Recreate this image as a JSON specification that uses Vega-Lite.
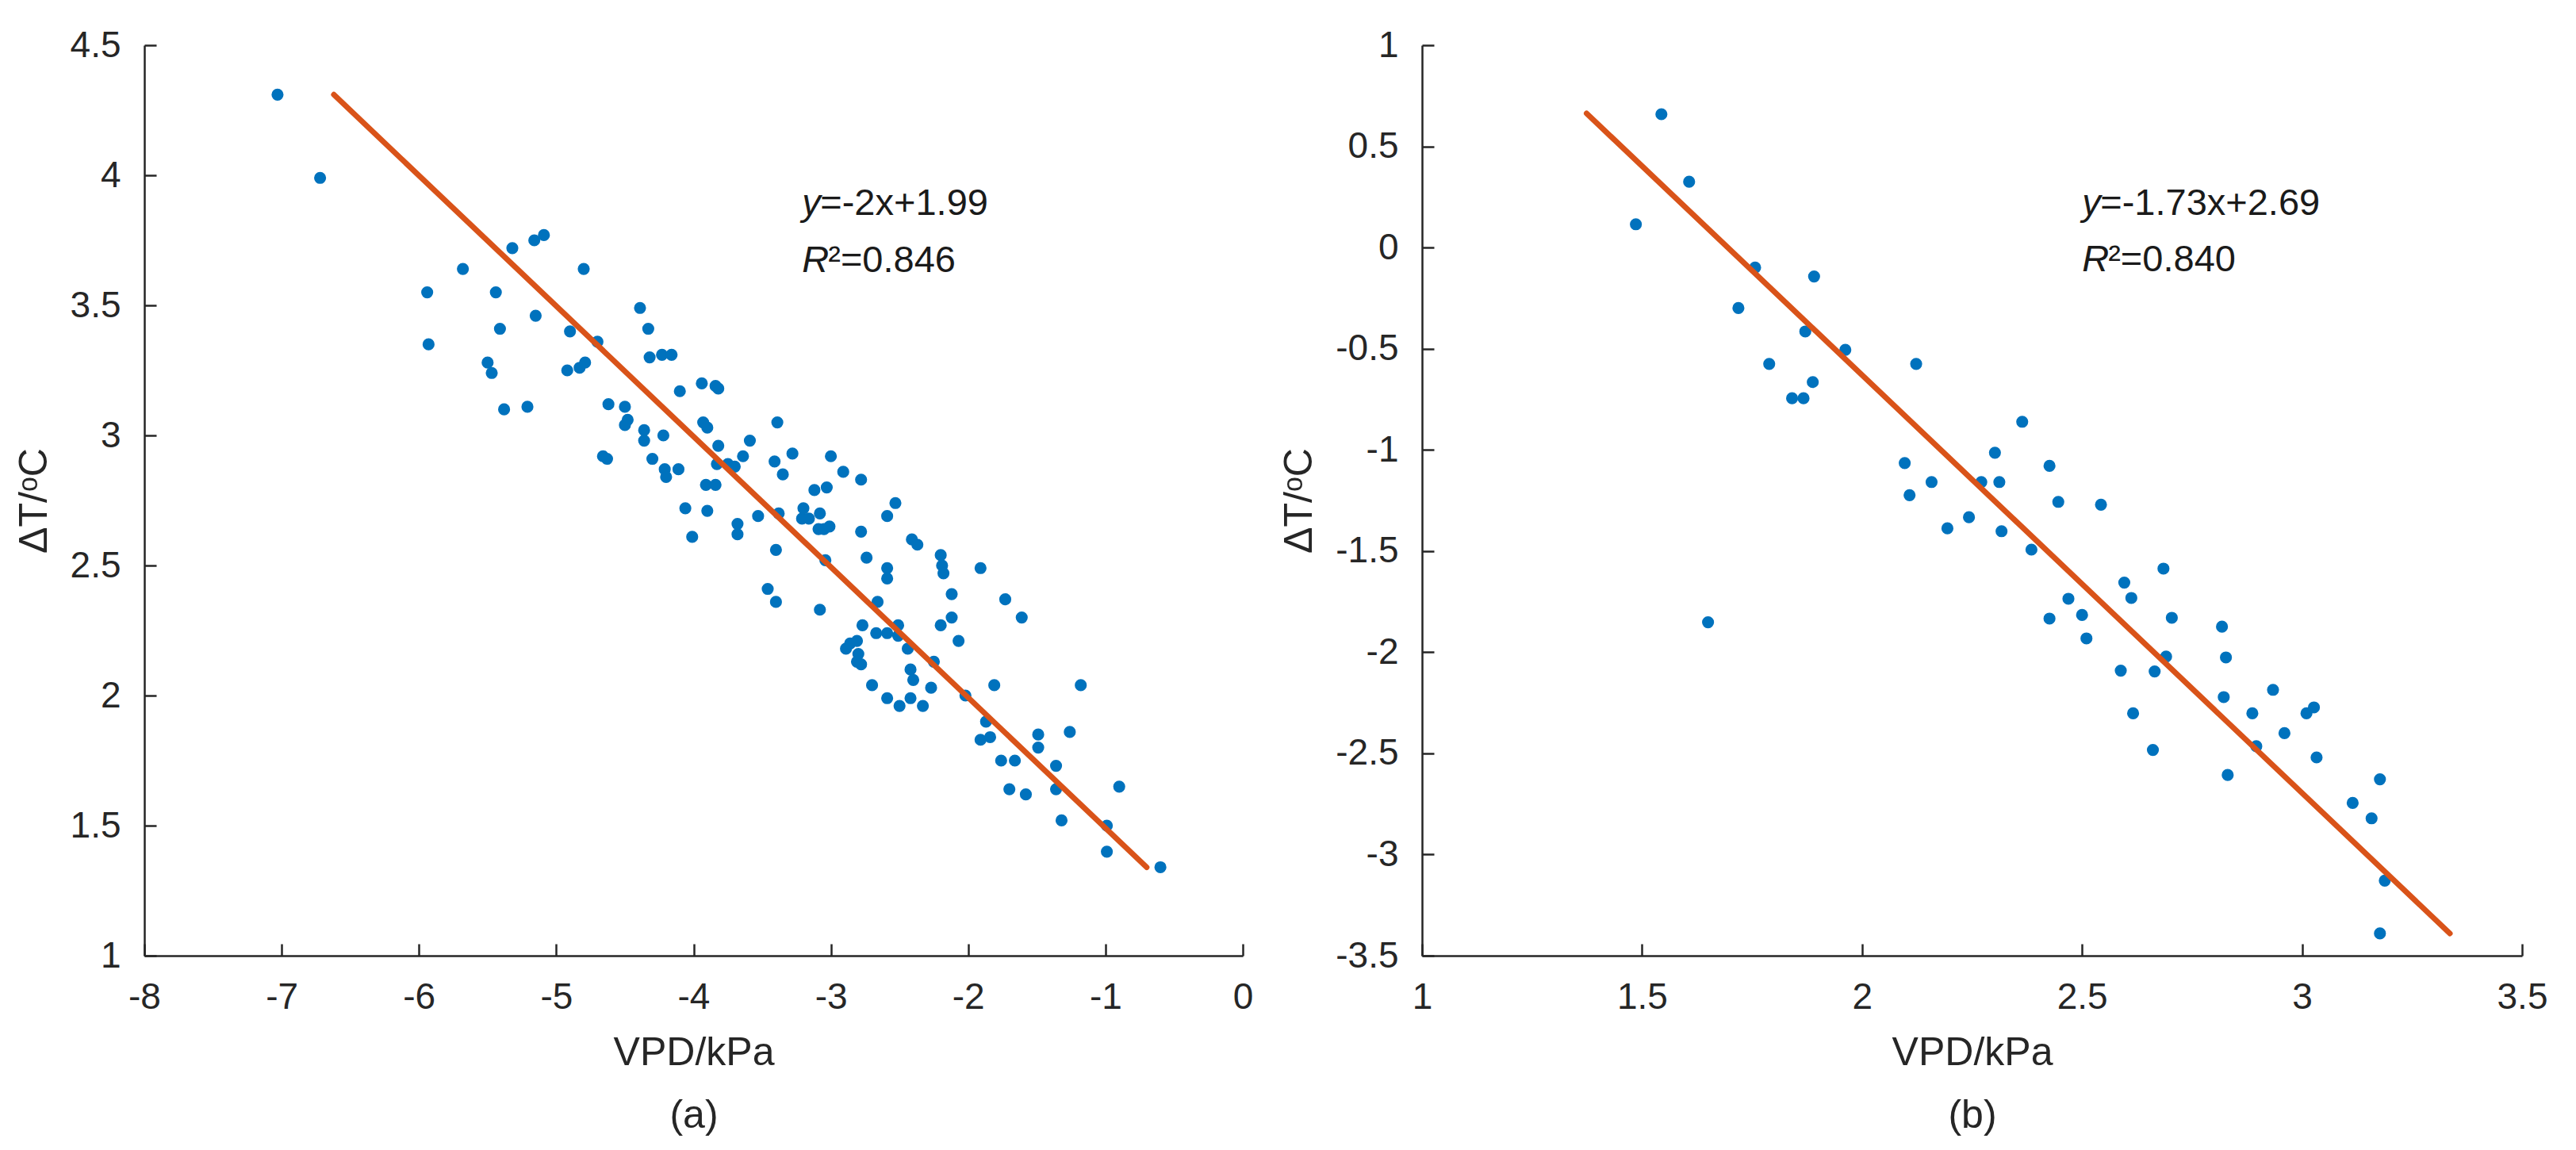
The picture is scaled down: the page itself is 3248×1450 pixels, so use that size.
{
  "$schema": "https://vega.github.io/schema/vega-lite/v6.json",
  "background": "white",
  "padding": {"left": 18, "top": 34, "right": 5, "bottom": 5},
  "bounds": "flush",
  "spacing": 226,
  "config": {
    "font": "Liberation Sans",
    "view": {"stroke": null},
    "axis": {
      "grid": false,
      "domainColor": "#262626",
      "domainWidth": 2.5,
      "tickColor": "#262626",
      "tickWidth": 2.5,
      "tickSize": -15,
      "labelFont": "Liberation Sans",
      "labelFontSize": 46,
      "labelColor": "#262626",
      "labelPadding": 45,
      "labelFlush": false,
      "labelOverlap": false,
      "labelExpr": "'' + datum.value",
      "titleFont": "Liberation Sans",
      "titleFontSize": 50,
      "titleFontWeight": "normal",
      "titleColor": "#262626"
    },
    "axisX": {"titlePadding": 22, "titleLineHeight": 79},
    "axisY": {"titlePadding": 20}
  },
  "datasets": {
    "a_points": [
      {"x": -7.03, "y": 4.31}, {"x": -6.72, "y": 3.99}, {"x": -5.94, "y": 3.55}, {"x": -5.93, "y": 3.35},
      {"x": -5.68, "y": 3.64}, {"x": -5.44, "y": 3.55}, {"x": -5.41, "y": 3.41}, {"x": -5.50, "y": 3.28},
      {"x": -5.47, "y": 3.24}, {"x": -5.38, "y": 3.10}, {"x": -5.32, "y": 3.72}, {"x": -5.21, "y": 3.11},
      {"x": -5.16, "y": 3.75}, {"x": -5.09, "y": 3.77}, {"x": -5.15, "y": 3.46}, {"x": -4.90, "y": 3.40},
      {"x": -4.92, "y": 3.25}, {"x": -4.83, "y": 3.26}, {"x": -4.79, "y": 3.28}, {"x": -4.80, "y": 3.64},
      {"x": -4.70, "y": 3.36}, {"x": -4.62, "y": 3.12}, {"x": -4.50, "y": 3.11}, {"x": -4.48, "y": 3.06},
      {"x": -4.50, "y": 3.04}, {"x": -4.66, "y": 2.92}, {"x": -4.63, "y": 2.91}, {"x": -4.39, "y": 3.49},
      {"x": -4.33, "y": 3.41}, {"x": -4.32, "y": 3.30}, {"x": -4.23, "y": 3.31}, {"x": -4.16, "y": 3.31},
      {"x": -4.36, "y": 3.02}, {"x": -4.36, "y": 2.98}, {"x": -4.22, "y": 3.00}, {"x": -4.30, "y": 2.91},
      {"x": -4.10, "y": 3.17}, {"x": -4.21, "y": 2.87}, {"x": -4.20, "y": 2.84}, {"x": -4.11, "y": 2.87},
      {"x": -4.06, "y": 2.72}, {"x": -4.01, "y": 2.61}, {"x": -3.94, "y": 3.20}, {"x": -3.93, "y": 3.05},
      {"x": -3.90, "y": 3.03}, {"x": -3.84, "y": 3.19}, {"x": -3.82, "y": 3.18}, {"x": -3.82, "y": 2.96},
      {"x": -3.83, "y": 2.89}, {"x": -3.91, "y": 2.81}, {"x": -3.84, "y": 2.81}, {"x": -3.90, "y": 2.71},
      {"x": -3.75, "y": 2.89}, {"x": -3.70, "y": 2.88}, {"x": -3.64, "y": 2.92}, {"x": -3.59, "y": 2.98},
      {"x": -3.68, "y": 2.66}, {"x": -3.68, "y": 2.62}, {"x": -3.53, "y": 2.69}, {"x": -3.46, "y": 2.41},
      {"x": -3.40, "y": 2.36}, {"x": -3.40, "y": 2.56}, {"x": -3.41, "y": 2.90}, {"x": -3.39, "y": 3.05},
      {"x": -3.35, "y": 2.85}, {"x": -3.38, "y": 2.70}, {"x": -3.28, "y": 2.93}, {"x": -3.21, "y": 2.68},
      {"x": -3.20, "y": 2.72}, {"x": -3.16, "y": 2.68}, {"x": -3.12, "y": 2.79}, {"x": -3.08, "y": 2.70},
      {"x": -3.09, "y": 2.64}, {"x": -3.05, "y": 2.64}, {"x": -3.01, "y": 2.65}, {"x": -3.03, "y": 2.80},
      {"x": -3.00, "y": 2.92}, {"x": -3.08, "y": 2.33}, {"x": -3.04, "y": 2.52}, {"x": -2.91, "y": 2.86},
      {"x": -2.78, "y": 2.83}, {"x": -2.78, "y": 2.63}, {"x": -2.74, "y": 2.53}, {"x": -2.89, "y": 2.18},
      {"x": -2.86, "y": 2.20}, {"x": -2.81, "y": 2.21}, {"x": -2.80, "y": 2.16}, {"x": -2.81, "y": 2.13},
      {"x": -2.78, "y": 2.12}, {"x": -2.77, "y": 2.27}, {"x": -2.70, "y": 2.04}, {"x": -2.66, "y": 2.36},
      {"x": -2.67, "y": 2.24}, {"x": -2.59, "y": 2.24}, {"x": -2.59, "y": 2.69}, {"x": -2.59, "y": 2.49},
      {"x": -2.59, "y": 2.45}, {"x": -2.53, "y": 2.74}, {"x": -2.59, "y": 1.99}, {"x": -2.51, "y": 2.27},
      {"x": -2.51, "y": 2.23}, {"x": -2.50, "y": 1.96}, {"x": -2.44, "y": 2.18}, {"x": -2.42, "y": 2.10},
      {"x": -2.40, "y": 2.06}, {"x": -2.41, "y": 2.60}, {"x": -2.37, "y": 2.58}, {"x": -2.42, "y": 1.99},
      {"x": -2.33, "y": 1.96}, {"x": -2.25, "y": 2.13}, {"x": -2.27, "y": 2.03}, {"x": -2.20, "y": 2.54},
      {"x": -2.19, "y": 2.50}, {"x": -2.18, "y": 2.47}, {"x": -2.20, "y": 2.27}, {"x": -2.12, "y": 2.39},
      {"x": -2.12, "y": 2.30}, {"x": -2.07, "y": 2.21}, {"x": -2.02, "y": 2.00}, {"x": -1.91, "y": 2.49},
      {"x": -1.87, "y": 1.90}, {"x": -1.81, "y": 2.04}, {"x": -1.91, "y": 1.83}, {"x": -1.84, "y": 1.84},
      {"x": -1.73, "y": 2.37}, {"x": -1.76, "y": 1.75}, {"x": -1.66, "y": 1.75}, {"x": -1.70, "y": 1.64},
      {"x": -1.61, "y": 2.30}, {"x": -1.58, "y": 1.62}, {"x": -1.49, "y": 1.85}, {"x": -1.49, "y": 1.80},
      {"x": -1.36, "y": 1.73}, {"x": -1.36, "y": 1.64}, {"x": -1.32, "y": 1.52}, {"x": -1.26, "y": 1.86},
      {"x": -1.18, "y": 2.04}, {"x": -0.99, "y": 1.50}, {"x": -0.99, "y": 1.40}, {"x": -0.90, "y": 1.65},
      {"x": -0.60, "y": 1.34}
    ],
    "a_fit": [
      {"x": -6.62, "y": 4.31}, {"x": -0.70, "y": 1.34}
    ],
    "a_note": [
      {"x": -3.21, "y": 3.89, "lead": "y", "label": "=-2x+1.99"},
      {"x": -3.21, "y": 3.67, "lead": "R", "label": "²=0.846"}
    ],
    "b_points": [
      {"x": 1.486, "y": 0.115}, {"x": 1.544, "y": 0.659}, {"x": 1.607, "y": 0.325}, {"x": 1.650, "y": -1.852},
      {"x": 1.719, "y": -0.299}, {"x": 1.757, "y": -0.099}, {"x": 1.789, "y": -0.575}, {"x": 1.841, "y": -0.745},
      {"x": 1.867, "y": -0.745}, {"x": 1.871, "y": -0.415}, {"x": 1.888, "y": -0.665}, {"x": 1.891, "y": -0.143},
      {"x": 1.962, "y": -0.506}, {"x": 2.097, "y": -1.065}, {"x": 2.108, "y": -1.224}, {"x": 2.123, "y": -0.575},
      {"x": 2.158, "y": -1.159}, {"x": 2.194, "y": -1.388}, {"x": 2.243, "y": -1.333}, {"x": 2.271, "y": -1.159},
      {"x": 2.302, "y": -1.014}, {"x": 2.312, "y": -1.159}, {"x": 2.317, "y": -1.402}, {"x": 2.364, "y": -0.861},
      {"x": 2.385, "y": -1.493}, {"x": 2.426, "y": -1.079}, {"x": 2.426, "y": -1.834}, {"x": 2.446, "y": -1.257},
      {"x": 2.469, "y": -1.736}, {"x": 2.500, "y": -1.816}, {"x": 2.510, "y": -1.932}, {"x": 2.543, "y": -1.271},
      {"x": 2.588, "y": -2.091}, {"x": 2.596, "y": -1.656}, {"x": 2.612, "y": -1.732}, {"x": 2.616, "y": -2.302},
      {"x": 2.661, "y": -2.483}, {"x": 2.665, "y": -2.095}, {"x": 2.685, "y": -1.587}, {"x": 2.691, "y": -2.022},
      {"x": 2.704, "y": -1.830}, {"x": 2.818, "y": -1.874}, {"x": 2.827, "y": -2.026}, {"x": 2.822, "y": -2.222},
      {"x": 2.831, "y": -2.607}, {"x": 2.887, "y": -2.302}, {"x": 2.896, "y": -2.465}, {"x": 2.934, "y": -2.186},
      {"x": 2.960, "y": -2.400}, {"x": 3.010, "y": -2.302}, {"x": 3.027, "y": -2.273}, {"x": 3.033, "y": -2.520},
      {"x": 3.115, "y": -2.745}, {"x": 3.158, "y": -2.821}, {"x": 3.177, "y": -2.628}, {"x": 3.188, "y": -3.129},
      {"x": 3.177, "y": -3.390}
    ],
    "b_fit": [
      {"x": 1.374, "y": 0.663}, {"x": 3.336, "y": -3.390}
    ],
    "b_note": [
      {"x": 2.50, "y": 0.216, "lead": "y", "label": "=-1.73x+2.69"},
      {"x": 2.50, "y": -0.063, "lead": "R", "label": "²=0.840"}
    ]
  },
  "hconcat": [
    {
      "width": 1385,
      "height": 1148,
      "encoding": {
        "x": {
          "field": "x", "type": "quantitative",
          "scale": {"domain": [-8, 0], "nice": false, "zero": false},
          "axis": {"title": ["VPD/kPa", "(a)"], "values": [-8, -7, -6, -5, -4, -3, -2, -1, 0]}
        },
        "y": {
          "field": "y", "type": "quantitative",
          "scale": {"domain": [1, 4.5], "nice": false, "zero": false},
          "axis": {"title": "ΔT/ᵒC", "values": [1, 1.5, 2, 2.5, 3, 3.5, 4, 4.5]}
        }
      },
      "layer": [
        {
          "data": {"name": "a_points"},
          "mark": {"type": "circle", "color": "#0072BD", "opacity": 1, "size": 230}
        },
        {
          "data": {"name": "a_fit"},
          "mark": {"type": "line", "color": "#D95319", "strokeWidth": 7, "strokeCap": "round"}
        },
        {
          "data": {"name": "a_note"},
          "mark": {"type": "text", "align": "left", "baseline": "middle", "fontSize": 47, "fontStyle": "italic", "color": "#1a1a1a"},
          "encoding": {"text": {"field": "lead"}}
        },
        {
          "data": {"name": "a_note"},
          "transform": [{"filter": "datum.lead == 'y'"}],
          "mark": {"type": "text", "align": "left", "baseline": "middle", "fontSize": 47, "dx": 23, "color": "#1a1a1a"},
          "encoding": {"text": {"field": "label"}}
        },
        {
          "data": {"name": "a_note"},
          "transform": [{"filter": "datum.lead == 'R'"}],
          "mark": {"type": "text", "align": "left", "baseline": "middle", "fontSize": 47, "dx": 33, "color": "#1a1a1a"},
          "encoding": {"text": {"field": "label"}}
        }
      ]
    },
    {
      "width": 1387,
      "height": 1148,
      "encoding": {
        "x": {
          "field": "x", "type": "quantitative",
          "scale": {"domain": [1, 3.5], "nice": false, "zero": false},
          "axis": {"title": ["VPD/kPa", "(b)"], "values": [1, 1.5, 2, 2.5, 3, 3.5]}
        },
        "y": {
          "field": "y", "type": "quantitative",
          "scale": {"domain": [-3.5, 1], "nice": false, "zero": false},
          "axis": {"title": "ΔT/ᵒC", "values": [-3.5, -3, -2.5, -2, -1.5, -1, -0.5, 0, 0.5, 1]}
        }
      },
      "layer": [
        {
          "data": {"name": "b_points"},
          "mark": {"type": "circle", "color": "#0072BD", "opacity": 1, "size": 230}
        },
        {
          "data": {"name": "b_fit"},
          "mark": {"type": "line", "color": "#D95319", "strokeWidth": 7, "strokeCap": "round"}
        },
        {
          "data": {"name": "b_note"},
          "mark": {"type": "text", "align": "left", "baseline": "middle", "fontSize": 47, "fontStyle": "italic", "color": "#1a1a1a"},
          "encoding": {"text": {"field": "lead"}}
        },
        {
          "data": {"name": "b_note"},
          "transform": [{"filter": "datum.lead == 'y'"}],
          "mark": {"type": "text", "align": "left", "baseline": "middle", "fontSize": 47, "dx": 23, "color": "#1a1a1a"},
          "encoding": {"text": {"field": "label"}}
        },
        {
          "data": {"name": "b_note"},
          "transform": [{"filter": "datum.lead == 'R'"}],
          "mark": {"type": "text", "align": "left", "baseline": "middle", "fontSize": 47, "dx": 33, "color": "#1a1a1a"},
          "encoding": {"text": {"field": "label"}}
        }
      ]
    }
  ]
}
